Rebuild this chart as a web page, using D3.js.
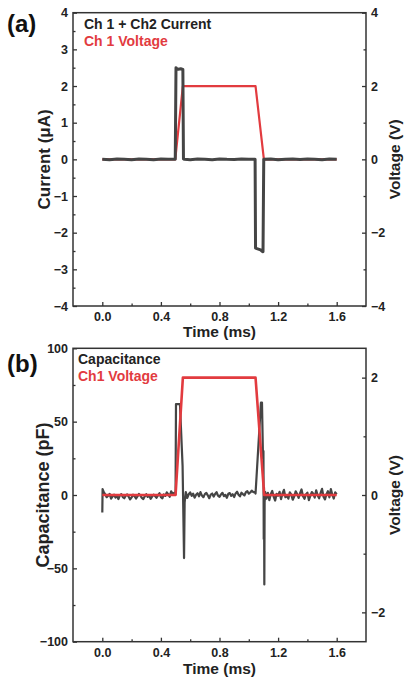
<!DOCTYPE html>
<html>
<head>
<meta charset="utf-8">
<script src="https://cdn.jsdelivr.net/npm/d3@7"></script>
<style>
  html, body { margin: 0; padding: 0; background: #fff; }
  svg { display: block; font-family: "Liberation Sans", Arial, sans-serif; font-weight: bold; }
</style>
</head>
<body>
<div id="chart"></div>
<script>
// ---------- data ----------
const xTicks = [0.0, 0.4, 0.8, 1.2, 1.6];
const xMinor = [0.2, 0.6, 1.0, 1.4];

// panel (a): current (uA) and Ch1 voltage (V)
const curLeftTicks = [-4, -3, -2, -1, 0, 1, 2, 3, 4];
const curLeftMinor = [-3.5, -2.5, -1.5, -0.5, 0.5, 1.5, 2.5, 3.5];
const curRightTicks = [-4, -2, 0, 2, 4];
const curRightMinor = [-3, -1, 1, 3];

const currentTime = [0.000, 0.05, 0.10, 0.15, 0.20, 0.25, 0.30, 0.35, 0.40, 0.45, 0.498,
  0.503, 0.508, 0.520, 0.535, 0.550, 0.554,
  0.560, 0.60, 0.65, 0.70, 0.75, 0.80, 0.85, 0.90, 0.95, 1.00, 1.043,
  1.046, 1.060, 1.080, 1.094, 1.097,
  1.102, 1.15, 1.20, 1.25, 1.30, 1.35, 1.40, 1.45, 1.50, 1.55, 1.60];
const currentValue = [0.005, -0.01, 0.01, 0.00, -0.012, 0.008, 0.004, -0.01, 0.01, 0.00, 0.005,
  2.50, 2.47, 2.46, 2.47, 2.45, 0.01,
  0.00, -0.01, 0.01, 0.005, -0.01, 0.01, 0.00, -0.005, 0.01, 0.005, 0.00,
  -2.42, -2.44, -2.47, -2.52, -2.52,
  0.005, 0.01, -0.01, 0.005, 0.01, -0.005, 0.01, 0.00, -0.01, 0.01, 0.005];

const voltATime = [0.0, 0.498, 0.550, 1.046, 1.103, 1.6];
const voltAValue = [0, 0, 2, 2, 0, 0];

// panel (b): capacitance (pF) and Ch1 voltage (V)
const capLeftTicks = [-100, -50, 0, 50, 100];
const capLeftMinor = [-75, -25, 25, 75];
const capRightTicks = [-2, 0, 2];
const capRightMinor = [-1, 1];

const capTime = [0.000, 0.002, 0.006,
  0.01, 0.02, 0.03, 0.04, 0.05, 0.06, 0.07, 0.08, 0.09, 0.10,
  0.11, 0.12, 0.13, 0.14, 0.15, 0.16, 0.17, 0.18, 0.19, 0.20,
  0.21, 0.22, 0.23, 0.24, 0.25, 0.26, 0.27, 0.28, 0.29, 0.30,
  0.31, 0.32, 0.33, 0.34, 0.35, 0.36, 0.37, 0.38, 0.39, 0.40,
  0.41, 0.42, 0.43, 0.44, 0.45, 0.46, 0.47, 0.48, 0.49,
  0.500, 0.503, 0.530, 0.548, 0.558, 0.562, 0.570,
  0.58, 0.59, 0.60, 0.61, 0.62, 0.63, 0.64, 0.65, 0.66, 0.67,
  0.68, 0.69, 0.70, 0.71, 0.72, 0.73, 0.74, 0.75, 0.76, 0.77,
  0.78, 0.79, 0.80, 0.81, 0.82, 0.83, 0.84, 0.85, 0.86, 0.87,
  0.88, 0.89, 0.90, 0.91, 0.92, 0.93, 0.94, 0.95, 0.96, 0.97,
  0.98, 0.99, 1.00, 1.01, 1.02, 1.03,
  1.040, 1.046, 1.083, 1.090, 1.097, 1.100, 1.102, 1.104, 1.106, 1.108, 1.112,
  1.12, 1.13, 1.14, 1.15, 1.16, 1.17, 1.18, 1.19, 1.20,
  1.21, 1.22, 1.23, 1.24, 1.25, 1.26, 1.27, 1.28, 1.29, 1.30,
  1.31, 1.32, 1.33, 1.34, 1.35, 1.36, 1.37, 1.38, 1.39, 1.40,
  1.41, 1.42, 1.43, 1.44, 1.45, 1.46, 1.47, 1.48, 1.49, 1.50,
  1.51, 1.52, 1.53, 1.54, 1.55, 1.56, 1.57, 1.58, 1.59, 1.60];
const capValue = [-12, 4, 3,
  2, 0.5, -1.5, -0.5, 0.8, -2.5, -1, 0.3, -1.8, -0.6,
  -2.8, -0.2, 0.6, -1.4, -2.2, -0.5, 0.4, -1.2, -3, -1.6,
  0.2, -0.8, -2.4, -1, 0.7, -0.4, -2, -2.8, -0.9, 0.5,
  -1.3, -0.2, -2.6, -1.1, 0.3, -0.7, -1.9, -0.3, 1.2, -1.5,
  -2.3, 0.4, -0.6, 1.8, 0.6, -1.2, 2.5, 0.8, 1.5,
  0.5, 62, 62, 20, -43, -5, 2,
  -2, 0.5, 1.8, -0.6, 0.9, -1.8, 0.2, 1.2, -0.9, 2.0,
  -0.4, -1.5, 0.6, 1.4, -0.2, -2.2, 0.3, 1.0, -1.1, 0.7,
  1.9, -0.5, -1.3, 0.4, 1.5, -0.8, 0.1, -1.9, 0.8, 1.3,
  -0.6, 0.5, -1.4, 1.1, 2.2, 0.2, -0.9, 1.6, 0.6, -0.3,
  1.9, 2.6, 0.9, 1.7, 3.0, 2.0,
  2, 1, 63, 63, 25, 30, -30, 5, -61, -5, 2,
  -2.5, 1.5, -3.5, 0.5, 2.8, -1.2, -3.8, 0.8, -0.5,
  2.2, -2.8, 1.0, 3.5, -1.5, -0.3, -2.5, 1.8, 0.2, -3.2,
  -1.0, 2.5, 0.6, -2.0, 1.2, 3.8, -0.8, -2.6, 0.4, 1.6,
  -3.5, -0.6, 2.0, 0.8, -1.8, 3.2, -0.4, -2.2, 1.4, 4.2,
  -1.2, -3.0, 0.6, 2.6, -1.6, 4.0, 0.2, -2.4, 1.8, 0.5];

const voltBTime = [0.0, 0.500, 0.550, 1.046, 1.105, 1.6];
const voltBValue = [0, 0, 2, 2, 0, 0];

// ---------- layout ----------
const W = 411, H = 680;
const GRAY = '#454545', RED = '#e23b3f', AXIS = '#333';

const svg = d3.select('#chart').append('svg').attr('width', W).attr('height', H);

function panel(opt) {
  const { top, bottom, left, right } = opt;
  const g = svg.append('g');
  const x = d3.scaleLinear().domain([-0.2, 1.8]).range([left, right]);
  const yL = d3.scaleLinear().domain(opt.leftDomain).range([bottom, top]);
  const yR = d3.scaleLinear().domain(opt.rightDomain).range([bottom, top]);

  const line = (ys) => d3.line().x(d => x(d[0])).y(d => ys(d[1]));
  const zip = (a, b) => a.map((t, i) => [t, b[i]]);

  const drawLeft = () => g.append('path')
    .datum(zip(opt.leftTime, opt.leftValue))
    .attr('fill', 'none').attr('stroke', GRAY)
    .attr('stroke-width', opt.leftWidth).attr('stroke-linejoin', 'round')
    .attr('d', line(yL));
  const drawRight = () => g.append('path')
    .datum(zip(opt.rightTime, opt.rightValue))
    .attr('fill', 'none').attr('stroke', RED)
    .attr('stroke-width', opt.rightWidth).attr('stroke-linejoin', 'round')
    .attr('d', line(yR));

  if (opt.redOnTop) { drawLeft(); drawRight(); } else { drawRight(); drawLeft(); }

  // axes, ticks pointing inward
  const styleAxis = sel => {
    sel.select('.domain').remove();
    sel.selectAll('line').attr('stroke', AXIS).attr('stroke-width', 1.3);
    sel.selectAll('text').attr('fill', '#222')
      .style('font-size', '12.5px').style('font-weight', 'bold')
      .style('font-family', '"Liberation Sans", Arial, sans-serif');
  };

  g.append('g').attr('transform', `translate(0,${bottom})`)
    .call(d3.axisBottom(x).tickValues(xTicks).tickSize(-4).tickPadding(6).tickFormat(d3.format('.1f')))
    .call(styleAxis);
  g.append('g').attr('transform', `translate(0,${bottom})`)
    .call(d3.axisBottom(x).tickValues(xMinor).tickSize(-2.5).tickFormat(''))
    .call(styleAxis);

  g.append('g').attr('transform', `translate(${left},0)`)
    .call(d3.axisLeft(yL).tickValues(opt.leftTicks).tickSize(-4).tickPadding(5).tickFormat(d3.format('d')))
    .call(styleAxis);
  g.append('g').attr('transform', `translate(${left},0)`)
    .call(d3.axisLeft(yL).tickValues(opt.leftMinor).tickSize(-2.5).tickFormat(''))
    .call(styleAxis);

  g.append('g').attr('transform', `translate(${right},0)`)
    .call(d3.axisRight(yR).tickValues(opt.rightTicks).tickSize(-4).tickPadding(5).tickFormat(d3.format('d')))
    .call(styleAxis);
  g.append('g').attr('transform', `translate(${right},0)`)
    .call(d3.axisRight(yR).tickValues(opt.rightMinor).tickSize(-2.5).tickFormat(''))
    .call(styleAxis);

  // frame
  g.append('rect').attr('x', left).attr('y', top)
    .attr('width', right - left).attr('height', bottom - top)
    .attr('fill', 'none').attr('stroke', AXIS).attr('stroke-width', 1.5);

  // titles
  const mid = (top + bottom) / 2;
  g.append('text').attr('transform', `translate(${opt.leftTitleX},${mid}) rotate(-90)`)
    .attr('text-anchor', 'middle').style('font-size', opt.leftTitleSize).attr('fill', '#222')
    .text(opt.leftTitle);
  g.append('text').attr('transform', `translate(${opt.rightTitleX},${mid}) rotate(-90)`)
    .attr('text-anchor', 'middle').style('font-size', '15.5px').attr('fill', '#222')
    .text(opt.rightTitle);
  g.append('text').attr('x', (left + right) / 2).attr('y', opt.timeY)
    .attr('text-anchor', 'middle').style('font-size', '15.5px').attr('fill', '#222')
    .text('Time (ms)');

  // legend
  g.append('text').attr('x', opt.legendX).attr('y', top + 16)
    .style('font-size', '14px').attr('fill', '#222').text(opt.leftLabel);
  g.append('text').attr('x', opt.legendX).attr('y', top + 33)
    .style('font-size', '14px').attr('fill', RED).text(opt.rightLabel);

  // panel letter
  g.append('text').attr('x', 7).attr('y', opt.letterY)
    .style('font-size', '24px').attr('fill', '#111').text(opt.letter);
}

panel({
  top: 12.7, bottom: 306, left: 73, right: 366,
  leftDomain: [-4, 4], rightDomain: [-4, 4],
  leftTicks: curLeftTicks, leftMinor: curLeftMinor,
  rightTicks: curRightTicks, rightMinor: curRightMinor,
  leftTime: currentTime, leftValue: currentValue, leftWidth: 3,
  rightTime: voltATime, rightValue: voltAValue, rightWidth: 2.2,
  redOnTop: false,
  leftTitle: 'Current (μA)', rightTitle: 'Voltage (V)',
  leftTitleX: 50, leftTitleSize: '17px', rightTitleX: 400, timeY: 337,
  leftLabel: 'Ch 1 + Ch2 Current', rightLabel: 'Ch 1 Voltage', legendX: 84,
  letter: '(a)', letterY: 32
});

panel({
  top: 348.3, bottom: 641.7, left: 73, right: 366,
  leftDomain: [-100, 100], rightDomain: [-2.5, 2.5],
  leftTicks: capLeftTicks, leftMinor: capLeftMinor,
  rightTicks: capRightTicks, rightMinor: capRightMinor,
  leftTime: capTime, leftValue: capValue, leftWidth: 2.2,
  rightTime: voltBTime, rightValue: voltBValue, rightWidth: 2.6,
  redOnTop: true,
  leftTitle: 'Capacitance (pF)', rightTitle: 'Voltage (V)',
  leftTitleX: 49, leftTitleSize: '18px', rightTitleX: 400, timeY: 674,
  leftLabel: 'Capacitance', rightLabel: 'Ch1 Voltage', legendX: 78,
  letter: '(b)', letterY: 372
});
</script>
</body>
</html>
